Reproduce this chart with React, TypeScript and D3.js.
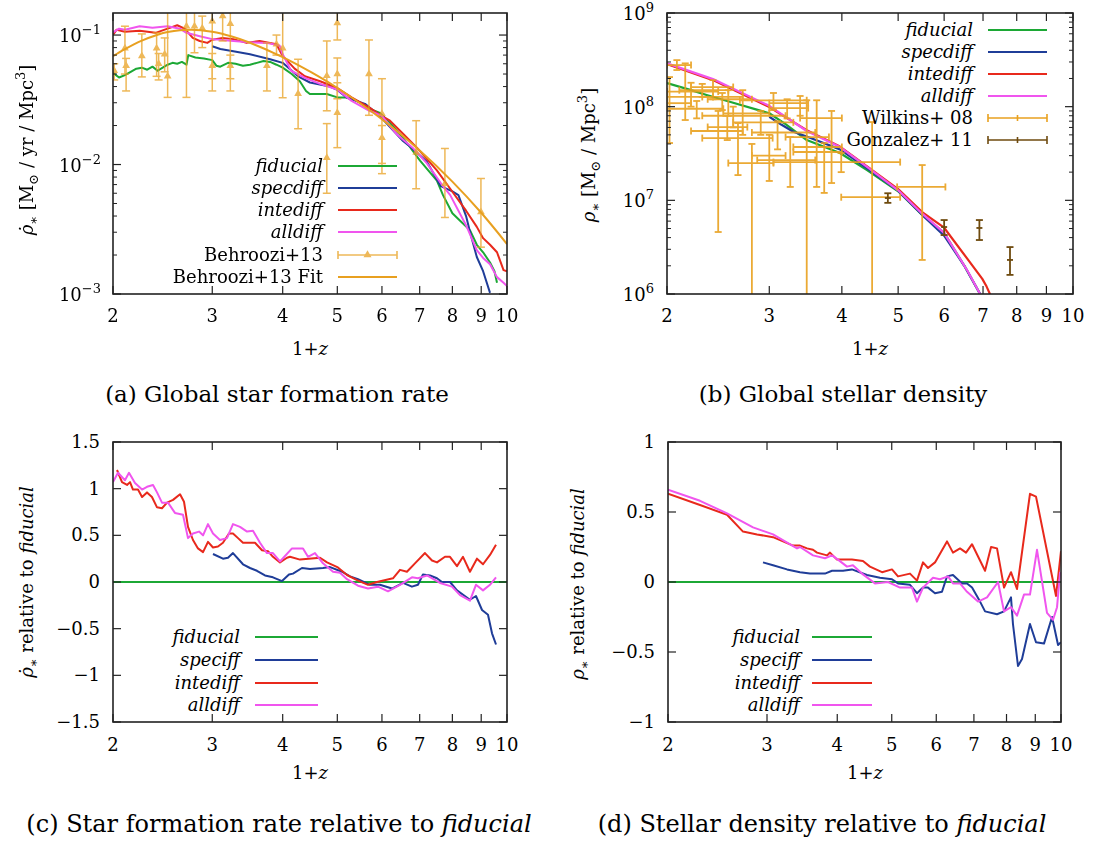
import React from "react";
import * as d3 from "d3";

// ---------------- DATA ----------------
const xTickVals = [2, 3, 4, 5, 6, 7, 8, 9, 10];

// (a) global SFR  [1+z, Msun/yr/Mpc^3]
const sfrFiducial: [number, number][] = [
  [2.0, 0.051], [2.05, 0.047], [2.1, 0.049], [2.15, 0.052], [2.2, 0.055], [2.25, 0.056], [2.3, 0.054],
  [2.35, 0.057], [2.4, 0.053], [2.45, 0.056], [2.5, 0.059], [2.55, 0.061], [2.6, 0.06], [2.65, 0.062],
  [2.7, 0.059], [2.72, 0.07], [2.8, 0.067], [2.9, 0.066], [3.0, 0.064], [3.05, 0.058], [3.1, 0.057],
  [3.2, 0.061], [3.3, 0.06], [3.4, 0.058], [3.5, 0.059], [3.6, 0.061], [3.7, 0.063], [3.8, 0.062],
  [3.9, 0.059], [4.0, 0.056], [4.15, 0.05], [4.29, 0.044], [4.4, 0.037], [4.47, 0.035], [4.79, 0.035],
  [5.0, 0.033], [5.2, 0.033], [5.42, 0.031], [5.7, 0.027], [5.95, 0.025], [6.2, 0.021], [6.54, 0.0161],
  [7.01, 0.0107], [7.51, 0.0075], [7.7, 0.0058], [8.0, 0.0042], [8.3, 0.0036], [8.6, 0.0031],
  [8.84, 0.0024], [9.07, 0.0021], [9.33, 0.00175], [9.5, 0.0015], [9.6, 0.00122],
];
const sfrSpecdiff: [number, number][] = [
  [3.0, 0.082], [3.1, 0.078], [3.27, 0.075], [3.5, 0.071], [3.8, 0.065], [4.0, 0.061], [4.26, 0.048],
  [4.47, 0.043], [4.85, 0.04], [5.0, 0.0377], [5.2, 0.0328], [5.6, 0.0294], [5.95, 0.0237], [6.54, 0.0152],
  [6.7, 0.014], [7.21, 0.0105], [7.63, 0.0068], [8.0, 0.0062], [8.2, 0.0058], [8.46, 0.004], [8.6, 0.003],
  [8.84, 0.00193], [9.07, 0.0015], [9.33, 0.00102],
];
const sfrIntediff: [number, number][] = [
  [2.0, 0.1], [2.03, 0.11], [2.1, 0.106], [2.23, 0.108], [2.38, 0.104], [2.5, 0.112], [2.6, 0.119],
  [2.68, 0.112], [2.77, 0.095], [2.85, 0.09], [2.94, 0.087], [3.0, 0.092], [3.13, 0.095], [3.27, 0.093],
  [3.45, 0.087], [3.64, 0.09], [3.9, 0.085], [4.0, 0.069], [4.2, 0.055], [4.38, 0.048], [4.66, 0.044],
  [5.0, 0.039], [5.3, 0.033], [5.7, 0.0275], [6.0, 0.0237], [6.2, 0.0218], [6.54, 0.0173], [6.92, 0.0135],
  [7.51, 0.009], [7.93, 0.0065], [8.46, 0.0044], [8.84, 0.0033], [9.07, 0.0027], [9.33, 0.0024],
  [9.6, 0.0021], [9.86, 0.00153], [10, 0.0015],
];
const sfrAlldiff: [number, number][] = [
  [2.0, 0.105], [2.05, 0.112], [2.1, 0.11], [2.23, 0.117], [2.35, 0.114], [2.5, 0.117], [2.63, 0.112],
  [2.7, 0.104], [2.85, 0.098], [3.0, 0.093], [3.27, 0.09], [3.5, 0.088], [3.74, 0.087], [3.95, 0.083],
  [4.0, 0.071], [4.14, 0.053], [4.38, 0.0467], [4.66, 0.042], [5.0, 0.038], [5.3, 0.031], [5.7, 0.026],
  [6.0, 0.0237], [6.36, 0.0173], [6.8, 0.0135], [7.21, 0.0102], [7.7, 0.0068], [7.93, 0.0058],
  [8.46, 0.0034], [8.84, 0.00218], [9.07, 0.0019], [9.33, 0.0017], [9.6, 0.00135], [9.86, 0.00122],
  [10, 0.00115],
];
const behrooziFit: [number, number][] = [
  [2.0, 0.0687], [2.1, 0.0778], [2.25, 0.0905], [2.4, 0.1006], [2.5, 0.1054], [2.75, 0.11], [3.0, 0.106],
  [3.25, 0.0974], [3.5, 0.0872], [4.0, 0.0675], [4.5, 0.0514], [5.0, 0.039], [6.0, 0.0224], [7.0, 0.01285],
  [8.0, 0.00738], [9.0, 0.00424], [10.0, 0.00243],
];
// [1+z, value, low, high]
const behrooziData: [number, number, number, number][] = [
  [2.01, 0.053, 0.045, 0.06], [2.1, 0.079, 0.05, 0.117], [2.11, 0.058, 0.037, 0.066],
  [2.25, 0.069, 0.0475, 0.102], [2.39, 0.079, 0.048, 0.104], [2.41, 0.06, 0.045, 0.072],
  [2.47, 0.071, 0.052, 0.095], [2.5, 0.048, 0.033, 0.15], [2.7, 0.117, 0.033, 0.15],
  [2.79, 0.117, 0.073, 0.15], [2.88, 0.113, 0.08, 0.14], [3.0, 0.128, 0.037, 0.15],
  [3.0, 0.058, 0.046, 0.072], [3.13, 0.14, 0.09, 0.15], [3.23, 0.122, 0.037, 0.15],
  [3.23, 0.058, 0.046, 0.07], [3.75, 0.058, 0.037, 0.087], [3.9, 0.085, 0.07, 0.1],
  [4.0, 0.079, 0.0328, 0.15], [4.26, 0.0352, 0.0189, 0.065], [4.79, 0.0484, 0.026, 0.09],
  [4.79, 0.0113, 0.006, 0.0207], [5.0, 0.124, 0.0916, 0.15], [5.0, 0.05, 0.0322, 0.0665],
  [5.0, 0.0251, 0.0135, 0.0428], [5.69, 0.05, 0.024, 0.0916], [6.0, 0.0247, 0.0085, 0.046],
  [6.0, 0.0161, 0.0102, 0.02], [6.9, 0.0124, 0.0065, 0.0218], [7.76, 0.0071, 0.0039, 0.0133],
  [8.99, 0.0043, 0.0023, 0.0078],
];

// (b) stellar density [1+z, Msun/Mpc^3]
const rhoFiducial: [number, number][] = [
  [2.0, 1.79e8], [2.2, 1.5e8], [2.34, 1.33e8], [2.6, 1.1e8], [3.0, 8.5e7], [3.2, 6.5e7], [3.48, 4.4e7],
  [3.97, 3.2e7], [4.42, 2.1e7], [5.0, 1.25e7], [5.5, 7.0e6], [6.0, 4.5e6], [6.5, 2.0e6], [6.92, 1.0e6],
  [7.0, 0.9e6],
];
const rhoSpecdiff: [number, number][] = [
  [3.0, 7.8e7], [3.15, 6.4e7], [3.3, 5.4e7], [3.48, 4.8e7], [3.97, 3.5e7], [4.42, 2.2e7], [5.0, 1.27e7],
  [5.5, 7.0e6], [6.0, 4.2e6], [6.5, 2.0e6], [6.92, 1.0e6], [7.0, 0.9e6],
];
const rhoIntediff: [number, number][] = [
  [2.0, 2.85e8], [2.4, 1.92e8], [3.0, 9.9e7], [3.48, 5.6e7], [3.97, 3.75e7], [4.42, 2.3e7], [5.0, 1.32e7],
  [5.5, 7.5e6], [6.0, 5.1e6], [6.57, 2.4e6], [6.98, 1.45e6], [7.1, 1.2e6], [7.25, 0.9e6],
];
const rhoAlldiff: [number, number][] = [
  [2.0, 2.9e8], [2.4, 1.97e8], [3.0, 1.02e8], [3.48, 5.5e7], [3.97, 3.7e7], [4.42, 2.27e7], [5.0, 1.28e7],
  [5.5, 7.2e6], [6.0, 4.5e6], [6.57, 1.8e6], [6.92, 1.0e6], [7.0, 0.9e6],
];
// [x, xlo, xhi, y, ylo, yhi]
const wilkins08: number[][] = [
  [2.08, 2.0, 2.2, 2.78e8, 2.46e8, 3.14e8], [2.02, 2.0, 2.2, 1.09e8, 4.09e7, 2.07e8],
  [2.15, 2.0, 2.4, 1.27e8, 7.2e7, 2.9e8], [2.2, 2.0, 2.45, 1.45e8, 1.0e8, 1.8e8],
  [2.3, 2.1, 2.55, 1.5e8, 1.27e8, 1.75e8], [2.4, 2.2, 2.6, 1.62e8, 1.2e8, 1.92e8],
  [2.49, 2.3, 2.7, 1.27e8, 9.2e7, 1.4e8], [2.45, 2.2, 2.7, 5.5e7, 4.59e6, 9e7],
  [2.54, 2.35, 2.75, 6.06e7, 4.4e7, 8e7], [2.55, 2.35, 2.8, 1.2e8, 8e7, 1.5e8],
  [2.65, 2.3, 3.04, 4.62e7, 1.86e7, 6.68e7], [2.7, 2.5, 3.0, 8.5e7, 5e7, 1.5e8],
  [2.8, 2.55, 3.05, 2.5e7, 5e5, 4e7], [3.0, 2.8, 3.2, 3.0e7, 1.61e7, 5e7],
  [3.05, 2.67, 3.48, 1.17e8, 9.2e7, 1.4e8], [3.22, 3.0, 3.5, 9.66e7, 7.5e7, 1.2e8],
  [3.26, 2.86, 3.6, 2.69e7, 1.39e7, 4.74e7], [3.39, 3.0, 3.5, 1.09e8, 8e7, 1.3e8],
  [3.48, 3.2, 3.8, 4.74e7, 5e5, 1.17e8], [3.62, 3.3, 4.0, 3.71e7, 1.39e7, 1.17e8],
  [3.84, 3.39, 4.0, 7.56e7, 1.53e7, 9e7], [3.73, 3.3, 4.0, 3.28e7, 1.2e7, 4.09e7],
  [3.99, 3.05, 5.04, 2.56e7, 2.0e7, 3.2e7], [4.51, 3.99, 5.04, 1.08e7, 5e5, 6.85e7],
  [5.5, 4.98, 6.03, 1.39e7, 2.31e6, 2.38e7], [2.6, 2.3, 3.2, 8.0e7, 6.0e7, 1.0e8],
  [2.9, 2.6, 3.3, 6.8e7, 5.0e7, 9.0e7], [3.1, 2.8, 3.6, 5.3e7, 3.5e7, 7.0e7],
  [2.25, 2.0, 2.5, 9.5e7, 7.5e7, 1.15e8],
];
// [x, y, ylo, yhi]
const gonzalez11: number[][] = [
  [4.8, 1.058e7, 9.4e6, 1.19e7], [6.0, 5.19e6, 4.26e6, 6.16e6],
  [6.9, 5.07e6, 3.77e6, 6.16e6], [7.79, 2.31e6, 1.6e6, 3.17e6],
];

// (c) SFR relative to fiducial
const relFiducial: [number, number][] = [[2, 0], [10, 0]];
const relSfrSpec: [number, number][] = [
  [3.009, 0.3], [3.134, 0.25], [3.199, 0.26], [3.265, 0.31], [3.401, 0.19], [3.5, 0.15], [3.601, 0.12],
  [3.721, 0.07], [3.844, 0.05], [3.989, 0.01], [4.104, 0.08], [4.172, 0.09], [4.328, 0.15], [4.472, 0.14],
  [4.716, 0.15], [4.853, 0.16], [5.097, 0.11], [5.266, 0.06], [5.441, 0.03], [5.714, -0.03], [5.952, -0.03],
  [6.251, -0.07], [6.539, -0.01], [6.782, -0.05], [6.951, -0.03], [7.094, 0.08], [7.301, 0.07], [7.512, 0.04],
  [7.667, 0.0], [7.922, 0.0], [8.152, -0.09], [8.596, -0.19], [8.809, -0.15], [9.03, -0.3], [9.253, -0.35],
  [9.406, -0.55], [9.561, -0.67],
];
const relSfrInte: [number, number][] = [
  [2.033, 1.2], [2.075, 1.07], [2.118, 1.04], [2.144, 1.07], [2.17, 0.99], [2.215, 0.99], [2.252, 0.91],
  [2.298, 0.96], [2.345, 0.91], [2.394, 0.8], [2.443, 0.79], [2.494, 0.85], [2.556, 0.88], [2.63, 0.94],
  [2.673, 0.86], [2.717, 0.59], [2.773, 0.45], [2.83, 0.36], [2.889, 0.32], [2.948, 0.43], [3.009, 0.37],
  [3.071, 0.38], [3.134, 0.42], [3.212, 0.52], [3.265, 0.52], [3.333, 0.47], [3.401, 0.42], [3.572, 0.42],
  [3.676, 0.34], [3.767, 0.33], [3.844, 0.27], [3.956, 0.21], [4.071, 0.26], [4.121, 0.27], [4.293, 0.24],
  [4.659, 0.26], [4.794, 0.21], [5.0, 0.16], [5.202, 0.075], [5.418, 0.02], [5.668, -0.03], [5.88, 0.0],
  [6.277, 0.04], [6.459, 0.13], [6.645, 0.11], [6.866, 0.2], [7.153, 0.31], [7.361, 0.23], [7.512, 0.21],
  [7.762, 0.27], [7.922, 0.27], [8.152, 0.17], [8.355, 0.27], [8.596, 0.11], [8.845, 0.25], [9.067, 0.19],
  [9.329, 0.29], [9.561, 0.4],
];
const relSfrAll: [number, number][] = [
  [2.0, 1.07], [2.041, 1.17], [2.1, 1.09], [2.135, 1.17], [2.188, 1.06], [2.252, 0.99], [2.298, 1.02],
  [2.355, 1.04], [2.394, 0.96], [2.443, 0.85], [2.504, 0.85], [2.576, 0.74], [2.662, 0.72], [2.717, 0.47],
  [2.773, 0.52], [2.842, 0.54], [2.889, 0.5], [2.948, 0.62], [3.009, 0.52], [3.096, 0.45], [3.186, 0.47],
  [3.265, 0.62], [3.36, 0.59], [3.458, 0.54], [3.543, 0.55], [3.646, 0.42], [3.751, 0.31], [3.844, 0.31],
  [3.956, 0.22], [4.155, 0.36], [4.346, 0.36], [4.436, 0.27], [4.564, 0.31], [4.716, 0.2], [4.913, 0.11],
  [5.055, 0.1], [5.202, 0.03], [5.441, -0.04], [5.668, -0.07], [5.904, -0.05], [6.15, -0.1], [6.459, -0.03],
  [6.782, 0.05], [6.951, 0.04], [7.212, 0.07], [7.605, -0.01], [7.987, -0.05], [8.253, -0.14], [8.596, -0.2],
  [8.809, -0.03], [9.067, -0.09], [9.329, -0.03], [9.561, 0.05],
];

// (d) stellar density relative to fiducial
const relRhoSpec: [number, number][] = [
  [2.951, 0.14], [3.075, 0.12], [3.256, 0.09], [3.434, 0.07], [3.577, 0.06], [3.804, 0.06], [3.915, 0.08],
  [4.095, 0.08], [4.248, 0.09], [4.517, 0.05], [4.765, 0.03], [5.005, 0.02], [5.13, -0.01], [5.388, -0.02],
  [5.544, -0.08], [5.683, -0.04], [5.801, -0.04], [5.969, -0.08], [6.142, -0.07], [6.27, 0.04], [6.425, 0.05],
  [6.668, -0.01], [6.806, -0.01], [6.947, -0.04], [7.178, -0.14], [7.327, -0.21], [7.695, -0.23],
  [7.919, -0.21], [8.148, -0.11], [8.214, -0.3], [8.385, -0.6], [8.524, -0.55], [8.807, -0.3], [9.027, -0.43],
  [9.327, -0.44], [9.64, -0.25], [9.88, -0.45], [10.0, -0.43],
];
const relRhoInte: [number, number][] = [
  [2.0, 0.63], [2.28, 0.55], [2.547, 0.48], [2.719, 0.36], [2.88, 0.34], [3.075, 0.32], [3.337, 0.26],
  [3.434, 0.26], [3.534, 0.24], [3.622, 0.23], [3.682, 0.21], [3.836, 0.19], [3.883, 0.21], [3.996, 0.16],
  [4.248, 0.16], [4.444, 0.15], [4.573, 0.11], [4.805, 0.07], [5.005, 0.09], [5.13, 0.04], [5.388, 0.06],
  [5.544, 0.01], [5.683, 0.14], [5.801, 0.1], [5.969, 0.14], [6.27, 0.29], [6.425, 0.21], [6.613, 0.24],
  [6.778, 0.21], [6.947, 0.27], [7.327, 0.08], [7.509, 0.25], [7.695, 0.24], [7.919, -0.04], [8.148, 0.07],
  [8.351, -0.05], [8.807, 0.63], [9.027, 0.61], [9.799, -0.1], [10.0, 0.22],
];
const relRhoAll: [number, number][] = [
  [2.0, 0.66], [2.28, 0.58], [2.547, 0.49], [2.833, 0.39], [3.075, 0.34], [3.392, 0.24], [3.434, 0.25],
  [3.622, 0.19], [3.804, 0.17], [3.915, 0.19], [4.012, 0.16], [4.163, 0.11], [4.265, 0.12], [4.426, 0.06],
  [4.668, -0.01], [4.923, 0.0], [5.172, -0.04], [5.432, -0.04], [5.544, -0.14], [5.683, -0.04], [5.92, 0.03],
  [6.092, 0.02], [6.296, 0.04], [6.425, -0.01], [6.613, -0.01], [6.806, -0.07], [7.119, -0.14],
  [7.387, -0.11], [7.727, 0.0], [7.919, -0.21], [8.148, -0.18], [8.351, -0.24], [8.594, -0.09],
  [8.807, -0.09], [9.064, 0.23], [9.443, -0.22], [9.68, -0.27], [9.839, -0.18], [9.961, 0.07],
];

// ---------------- STYLE ----------------
const FONT = "'DejaVu Serif', 'Liberation Serif', serif";
const C_FID = "#1ca835";
const C_SPEC = "#1f3d98";
const C_INTE = "#e8291c";
const C_ALL = "#f055ee";
const C_BEH = "#e8a020";
const C_WIL = "#e9a11f";
const C_GON = "#6e4a0e";
const AX = "#222";
const FS = 18;
const FSS = 13;
const FCAP = 23;

type Sc = (v: number) => number;

function XTicks({ xs, top, bottom, labelY }: { xs: Sc; top: number; bottom: number; labelY: number }) {
  return (
    <g>
      {xTickVals.map((t) => {
        const x = xs(t);
        return (
          <g key={t}>
            <line x1={x} x2={x} y1={bottom} y2={bottom - 8} stroke={AX} strokeWidth={1.2} />
            <line x1={x} x2={x} y1={top} y2={top + 8} stroke={AX} strokeWidth={1.2} />
            <text x={x} y={labelY} textAnchor="middle" fontSize={FS}>{t}</text>
          </g>
        );
      })}
    </g>
  );
}

function LogYTicks({ ys, left, right, labelX }: { ys: any; left: number; right: number; labelX: number }) {
  const [lo, hi] = ys.domain();
  const d0 = Math.floor(Math.log10(lo));
  const d1 = Math.ceil(Math.log10(hi));
  const majors: number[] = [];
  const minors: number[] = [];
  for (let d = d0; d <= d1; d++) {
    const m = Math.pow(10, d);
    if (m >= lo * 0.999 && m <= hi * 1.001) majors.push(d);
    for (let k = 2; k <= 9; k++) {
      const v = k * m;
      if (v > lo && v < hi) minors.push(v);
    }
  }
  return (
    <g>
      {minors.map((v, i) => (
        <g key={"m" + i}>
          <line x1={left} x2={left + 4} y1={ys(v)} y2={ys(v)} stroke={AX} strokeWidth={1} />
          <line x1={right} x2={right - 4} y1={ys(v)} y2={ys(v)} stroke={AX} strokeWidth={1} />
        </g>
      ))}
      {majors.map((d) => {
        const y = ys(Math.pow(10, d));
        const ex = d < 0 ? "\u2212" + -d : String(d);
        return (
          <g key={"M" + d}>
            <line x1={left} x2={left + 8} y1={y} y2={y} stroke={AX} strokeWidth={1.2} />
            <line x1={right} x2={right - 8} y1={y} y2={y} stroke={AX} strokeWidth={1.2} />
            <text x={labelX} y={y + 7} textAnchor="end" fontSize={FS}>
              <tspan>10</tspan>
              <tspan fontSize={FSS} dy={-8}>{ex}</tspan>
            </text>
          </g>
        );
      })}
    </g>
  );
}

function LinYTicks({ ys, vals, left, right, labelX }: { ys: Sc; vals: number[]; left: number; right: number; labelX: number }) {
  return (
    <g>
      {vals.map((v) => {
        const y = ys(v);
        const s = v < 0 ? "\u2212" + String(-v) : String(v);
        return (
          <g key={v}>
            <line x1={left} x2={left + 8} y1={y} y2={y} stroke={AX} strokeWidth={1.2} />
            <line x1={right} x2={right - 8} y1={y} y2={y} stroke={AX} strokeWidth={1.2} />
            <text x={labelX} y={y + 6} textAnchor="end" fontSize={FS}>{s}</text>
          </g>
        );
      })}
    </g>
  );
}

function Frame({ x0, x1, y0, y1 }: { x0: number; x1: number; y0: number; y1: number }) {
  return <rect x={x0} y={y0} width={x1 - x0} height={y1 - y0} fill="none" stroke={AX} strokeWidth={1.6} />;
}

function Curve({ data, xs, ys, color, w = 2, curve }: any) {
  const gen = d3
    .line<[number, number]>()
    .x((d) => xs(d[0]))
    .y((d) => ys(d[1]))
    .curve(curve || d3.curveLinear);
  return <path d={gen(data) || ""} fill="none" stroke={color} strokeWidth={w} strokeLinejoin="round" />;
}

function LegendRow({ y, textX, lx0, lx1, label, italic, color, kind }: any) {
  const mid = (lx0 + lx1) / 2;
  return (
    <g>
      <text x={textX} y={y + 6} textAnchor="end" fontSize={FS} fontStyle={italic ? "italic" : "normal"}>{label}</text>
      {kind === "err" || kind === "errtri" ? (
        <g stroke={color} strokeWidth={1.6} opacity={kind === "errtri" ? 0.75 : 1}>
          <line x1={lx0} x2={lx1} y1={y} y2={y} />
          <line x1={lx0} x2={lx0} y1={y - 4} y2={y + 4} />
          <line x1={lx1} x2={lx1} y1={y - 4} y2={y + 4} />
          {kind === "err" ? <line x1={mid} x2={mid} y1={y - 3} y2={y + 3} /> : null}
          {kind === "errtri" ? (
            <path d={d3.symbol(d3.symbolTriangle, 28)() || ""} transform={`translate(${mid},${y})`} fill={color} stroke="none" />
          ) : null}
        </g>
      ) : (
        <line x1={lx0} x2={lx1} y1={y} y2={y} stroke={color} strokeWidth={2.2} />
      )}
    </g>
  );
}

// ---------------- PANELS ----------------
function PanelA() {
  const L = 113, R = 507, T = 13, B = 294;
  const xs = d3.scaleLog().domain([2, 10]).range([L, R]);
  const ys = d3.scaleLog().domain([1e-3, 0.148]).range([B, T]);
  const tri = d3.symbol(d3.symbolTriangle, 26)() || "";
  const rows = [166, 188, 210, 232, 255, 277];
  return (
    <g>
      <defs>
        <clipPath id="clipA"><rect x={L} y={T} width={R - L} height={B - T} /></clipPath>
      </defs>
      <g clipPath="url(#clipA)">
        <Curve data={sfrFiducial} xs={xs} ys={ys} color={C_FID} />
        <Curve data={sfrSpecdiff} xs={xs} ys={ys} color={C_SPEC} />
        <Curve data={sfrIntediff} xs={xs} ys={ys} color={C_INTE} />
        <Curve data={sfrAlldiff} xs={xs} ys={ys} color={C_ALL} />
        <g stroke={C_BEH} strokeWidth={1.5} opacity={0.75}>
          {behrooziData.map((d, i) => {
            const x = xs(d[0]);
            return (
              <g key={i}>
                <line x1={x} x2={x} y1={ys(d[2])} y2={ys(d[3])} />
                <line x1={x - 4} x2={x + 4} y1={ys(d[2])} y2={ys(d[2])} />
                <line x1={x - 4} x2={x + 4} y1={ys(d[3])} y2={ys(d[3])} />
                <path d={tri} transform={`translate(${x},${ys(d[1])})`} fill={C_BEH} stroke="none" />
              </g>
            );
          })}
        </g>
        <Curve data={behrooziFit} xs={xs} ys={ys} color={C_BEH} w={2} curve={d3.curveCatmullRom} />
      </g>
      <Frame x0={L} x1={R} y0={T} y1={B} />
      <XTicks xs={xs} top={T} bottom={B} labelY={322} />
      <LogYTicks ys={ys} left={L} right={R} labelX={101} />
      <LegendRow y={rows[0]} textX={323} lx0={338} lx1={397} label="fiducial" italic color={C_FID} />
      <LegendRow y={rows[1]} textX={323} lx0={338} lx1={397} label="specdiff" italic color={C_SPEC} />
      <LegendRow y={rows[2]} textX={323} lx0={338} lx1={397} label="intediff" italic color={C_INTE} />
      <LegendRow y={rows[3]} textX={323} lx0={338} lx1={397} label="alldiff" italic color={C_ALL} />
      <LegendRow y={rows[4]} textX={323} lx0={338} lx1={397} label="Behroozi+13" color={C_BEH} kind="errtri" />
      <LegendRow y={rows[5]} textX={323} lx0={338} lx1={397} label="Behroozi+13 Fit" color={C_BEH} />
      <text transform="translate(33,150) rotate(-90)" textAnchor="middle" fontSize={FS}>
        <tspan fontStyle="italic">{"\u03C1\u0307"}</tspan>
        <tspan fontSize={FSS} dy={5}>{"\u2217"}</tspan>
        <tspan dy={-5}>{" [M"}</tspan>
        <tspan fontSize={FSS} dy={5}>{"\u2299"}</tspan>
        <tspan dy={-5}>{" / yr / Mpc"}</tspan>
        <tspan fontSize={FSS} dy={-8}>3</tspan>
        <tspan dy={8}>]</tspan>
      </text>
      <text x={310} y={355} textAnchor="middle" fontSize={FS}>
        1+<tspan fontStyle="italic">z</tspan>
      </text>
      <text x={277} y={402} textAnchor="middle" fontSize={FCAP}>(a) Global star formation rate</text>
    </g>
  );
}

function PanelB() {
  const L = 667, R = 1073, T = 13, B = 294;
  const xs = d3.scaleLog().domain([2, 10]).range([L, R]);
  const ys = d3.scaleLog().domain([1e6, 1e9]).range([B, T]);
  const rows = [30, 52, 74, 96, 118, 140];
  return (
    <g>
      <defs>
        <clipPath id="clipB"><rect x={L} y={T} width={R - L} height={B - T} /></clipPath>
      </defs>
      <g clipPath="url(#clipB)">
        <Curve data={rhoFiducial} xs={xs} ys={ys} color={C_FID} w={2.2} />
        <Curve data={rhoSpecdiff} xs={xs} ys={ys} color={C_SPEC} w={2.2} />
        <Curve data={rhoIntediff} xs={xs} ys={ys} color={C_INTE} w={2.2} />
        <Curve data={rhoAlldiff} xs={xs} ys={ys} color={C_ALL} w={2.2} />
        <g stroke={C_WIL} strokeWidth={1.8} opacity={0.9}>
          {wilkins08.map((d, i) => {
            const x = xs(d[0]), y = ys(d[3]);
            const xl = xs(d[1]), xh = xs(d[2]), yl = ys(d[4]), yh = ys(d[5]);
            return (
              <g key={i}>
                <line x1={xl} x2={xh} y1={y} y2={y} />
                <line x1={x} x2={x} y1={yl} y2={yh} />
                <line x1={xl} x2={xl} y1={y - 3.5} y2={y + 3.5} />
                <line x1={xh} x2={xh} y1={y - 3.5} y2={y + 3.5} />
                <line x1={x - 3.5} x2={x + 3.5} y1={yl} y2={yl} />
                <line x1={x - 3.5} x2={x + 3.5} y1={yh} y2={yh} />
              </g>
            );
          })}
        </g>
        <g stroke={C_GON} strokeWidth={1.8}>
          {gonzalez11.map((d, i) => {
            const x = xs(d[0]), y = ys(d[1]);
            return (
              <g key={i}>
                <line x1={x} x2={x} y1={ys(d[2])} y2={ys(d[3])} />
                <line x1={x - 3.5} x2={x + 3.5} y1={ys(d[2])} y2={ys(d[2])} />
                <line x1={x - 3.5} x2={x + 3.5} y1={ys(d[3])} y2={ys(d[3])} />
                <line x1={x - 3} x2={x + 3} y1={y} y2={y} />
              </g>
            );
          })}
        </g>
      </g>
      <Frame x0={L} x1={R} y0={T} y1={B} />
      <XTicks xs={xs} top={T} bottom={B} labelY={322} />
      <LogYTicks ys={ys} left={L} right={R} labelX={654} />
      <LegendRow y={rows[0]} textX={973} lx0={988} lx1={1047} label="fiducial" italic color={C_FID} />
      <LegendRow y={rows[1]} textX={973} lx0={988} lx1={1047} label="specdiff" italic color={C_SPEC} />
      <LegendRow y={rows[2]} textX={973} lx0={988} lx1={1047} label="intediff" italic color={C_INTE} />
      <LegendRow y={rows[3]} textX={973} lx0={988} lx1={1047} label="alldiff" italic color={C_ALL} />
      <LegendRow y={rows[4]} textX={973} lx0={988} lx1={1047} label="Wilkins+ 08" color={C_WIL} kind="err" />
      <LegendRow y={rows[5]} textX={973} lx0={988} lx1={1047} label="Gonzalez+ 11" color={C_GON} kind="err" />
      <text transform="translate(595,155) rotate(-90)" textAnchor="middle" fontSize={FS}>
        <tspan fontStyle="italic">{"\u03C1"}</tspan>
        <tspan fontSize={FSS} dy={5}>{"\u2217"}</tspan>
        <tspan dy={-5}>{" [M"}</tspan>
        <tspan fontSize={FSS} dy={5}>{"\u2299"}</tspan>
        <tspan dy={-5}>{" / Mpc"}</tspan>
        <tspan fontSize={FSS} dy={-8}>3</tspan>
        <tspan dy={8}>]</tspan>
      </text>
      <text x={870} y={355} textAnchor="middle" fontSize={FS}>
        1+<tspan fontStyle="italic">z</tspan>
      </text>
      <text x={843} y={402} textAnchor="middle" fontSize={FCAP}>(b) Global stellar density</text>
    </g>
  );
}

function PanelC() {
  const L = 113, R = 507, T = 442, B = 722;
  const xs = d3.scaleLog().domain([2, 10]).range([L, R]);
  const ys = d3.scaleLinear().domain([-1.5, 1.5]).range([B, T]);
  const rows = [637, 660, 683, 705];
  return (
    <g>
      <defs>
        <clipPath id="clipC"><rect x={L} y={T} width={R - L} height={B - T} /></clipPath>
      </defs>
      <g clipPath="url(#clipC)">
        <Curve data={relFiducial} xs={xs} ys={ys} color={C_FID} />
        <Curve data={relSfrSpec} xs={xs} ys={ys} color={C_SPEC} />
        <Curve data={relSfrInte} xs={xs} ys={ys} color={C_INTE} />
        <Curve data={relSfrAll} xs={xs} ys={ys} color={C_ALL} />
      </g>
      <Frame x0={L} x1={R} y0={T} y1={B} />
      <XTicks xs={xs} top={T} bottom={B} labelY={751} />
      <LinYTicks ys={ys} vals={[-1.5, -1, -0.5, 0, 0.5, 1, 1.5]} left={L} right={R} labelX={100} />
      <LegendRow y={rows[0]} textX={240} lx0={255} lx1={318} label="fiducial" italic color={C_FID} />
      <LegendRow y={rows[1]} textX={240} lx0={255} lx1={318} label="speciff" italic color={C_SPEC} />
      <LegendRow y={rows[2]} textX={240} lx0={255} lx1={318} label="intediff" italic color={C_INTE} />
      <LegendRow y={rows[3]} textX={240} lx0={255} lx1={318} label="alldiff" italic color={C_ALL} />
      <text transform="translate(33,582) rotate(-90)" textAnchor="middle" fontSize={FS}>
        <tspan fontStyle="italic">{"\u03C1\u0307"}</tspan>
        <tspan fontSize={FSS} dy={5}>{"\u2217"}</tspan>
        <tspan dy={-5}>{" relative to "}</tspan>
        <tspan fontStyle="italic">fiducial</tspan>
      </text>
      <text x={310} y={779} textAnchor="middle" fontSize={FS}>
        1+<tspan fontStyle="italic">z</tspan>
      </text>
      <text x={279} y={832} textAnchor="middle" fontSize={24}>
        {"(c) Star formation rate relative to "}
        <tspan fontStyle="italic">fiducial</tspan>
      </text>
    </g>
  );
}

function PanelD() {
  const L = 668, R = 1061, T = 442, B = 722;
  const xs = d3.scaleLog().domain([2, 10]).range([L, R]);
  const ys = d3.scaleLinear().domain([-1, 1]).range([B, T]);
  const rows = [637, 660, 683, 705];
  return (
    <g>
      <defs>
        <clipPath id="clipD"><rect x={L} y={T} width={R - L} height={B - T} /></clipPath>
      </defs>
      <g clipPath="url(#clipD)">
        <Curve data={relFiducial} xs={xs} ys={ys} color={C_FID} />
        <Curve data={relRhoSpec} xs={xs} ys={ys} color={C_SPEC} />
        <Curve data={relRhoInte} xs={xs} ys={ys} color={C_INTE} />
        <Curve data={relRhoAll} xs={xs} ys={ys} color={C_ALL} />
      </g>
      <Frame x0={L} x1={R} y0={T} y1={B} />
      <XTicks xs={xs} top={T} bottom={B} labelY={751} />
      <LinYTicks ys={ys} vals={[-1, -0.5, 0, 0.5, 1]} left={L} right={R} labelX={655} />
      <LegendRow y={rows[0]} textX={800} lx0={812} lx1={872} label="fiducial" italic color={C_FID} />
      <LegendRow y={rows[1]} textX={800} lx0={812} lx1={872} label="speciff" italic color={C_SPEC} />
      <LegendRow y={rows[2]} textX={800} lx0={812} lx1={872} label="intediff" italic color={C_INTE} />
      <LegendRow y={rows[3]} textX={800} lx0={812} lx1={872} label="alldiff" italic color={C_ALL} />
      <text transform="translate(584,584) rotate(-90)" textAnchor="middle" fontSize={FS}>
        <tspan fontStyle="italic">{"\u03C1"}</tspan>
        <tspan fontSize={FSS} dy={5}>{"\u2217"}</tspan>
        <tspan dy={-5}>{" relative to "}</tspan>
        <tspan fontStyle="italic">fiducial</tspan>
      </text>
      <text x={865} y={779} textAnchor="middle" fontSize={FS}>
        1+<tspan fontStyle="italic">z</tspan>
      </text>
      <text x={822} y={832} textAnchor="middle" fontSize={24}>
        {"(d) Stellar density relative to "}
        <tspan fontStyle="italic">fiducial</tspan>
      </text>
    </g>
  );
}

export default function App() {
  return (
    <svg
      width={1097}
      height={845}
      viewBox="0 0 1097 845"
      style={{ position: "absolute", left: 0, top: 0, background: "#fff", fontFamily: FONT }}
      fontFamily={FONT}
      fill="#000"
    >
      <rect x={0} y={0} width={1097} height={845} fill="#fff" />
      <PanelA />
      <PanelB />
      <PanelC />
      <PanelD />
    </svg>
  );
}
